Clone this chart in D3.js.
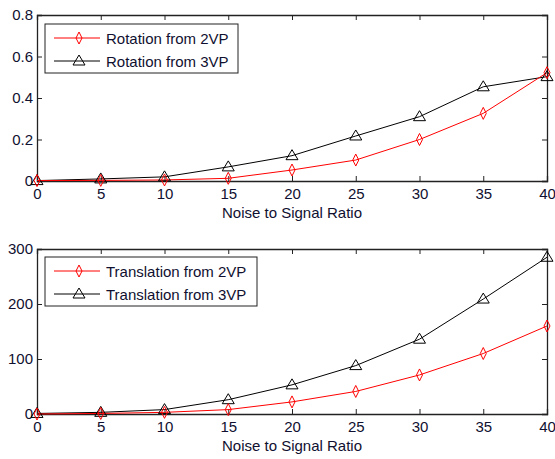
<!DOCTYPE html>
<html>
<head>
<meta charset="utf-8">
<script src="https://cdn.jsdelivr.net/npm/d3@7"></script>
<style>
body { margin: 0; background: #fff; }
text { font-family: "Liberation Sans", Arial, sans-serif; font-size: 15px; fill: #101030; }
</style>
</head>
<body>
<div id="chart"></div>
<script>
var noise = [0, 5, 10, 15, 20, 25, 30, 35, 40];
var rot2vp = [0.002, 0.003, 0.005, 0.013, 0.053, 0.101, 0.2, 0.326, 0.522];
var rot3vp = [0.002, 0.01, 0.02, 0.068, 0.122, 0.217, 0.31, 0.454, 0.503];
var trans2vp = [0, 1, 3, 8, 22, 41, 71, 110, 160];
var trans3vp = [1, 3, 8, 26, 53, 88, 136, 209, 285];
var xTicks = [0, 5, 10, 15, 20, 25, 30, 35, 40];
var rotTicks = [0, 0.2, 0.4, 0.6, 0.8];
var transTicks = [0, 100, 200, 300];

var W = 555, H = 459;
var svg = d3.select("#chart").append("svg")
    .attr("width", W).attr("height", H);

function diamond(g, cx, cy, color) {
    g.append("path")
        .attr("d", "M" + cx + "," + (cy - 6) + "L" + (cx + 3) + "," + cy +
            "L" + cx + "," + (cy + 6) + "L" + (cx - 3) + "," + cy + "Z")
        .attr("fill", "none").attr("stroke", color).attr("stroke-width", 1);
}
function triangle(g, cx, cy, color) {
    g.append("path")
        .attr("d", "M" + cx + "," + (cy - 6) + "L" + (cx + 6) + "," + (cy + 4) +
            "L" + (cx - 6) + "," + (cy + 4) + "Z")
        .attr("fill", "none").attr("stroke", color).attr("stroke-width", 1);
}

function panel(top, bottom, yMax, yTicks, fmt, s2, s3, labels, legW, legTop) {
    var left = 37, right = 547;
    var x = d3.scaleLinear().domain([0, 40]).range([left, right]);
    var y = d3.scaleLinear().domain([0, yMax]).range([bottom, top]);
    var g = svg.append("g");

    // axes with inward ticks, MATLAB style
    var xa = g.append("g").attr("transform", "translate(0," + bottom + ")")
        .call(d3.axisBottom(x).tickValues(xTicks).tickSize(-5).tickPadding(7).tickFormat(d3.format("d")));
    var xt = g.append("g").attr("transform", "translate(0," + top + ")")
        .call(d3.axisTop(x).tickValues(xTicks).tickSize(-5).tickFormat(""));
    var ya = g.append("g").attr("transform", "translate(" + left + ",0)")
        .call(d3.axisLeft(y).tickValues(yTicks).tickSize(-5).tickPadding(4).tickFormat(fmt));
    var yr = g.append("g").attr("transform", "translate(" + right + ",0)")
        .call(d3.axisRight(y).tickValues(yTicks).tickSize(-5).tickFormat(""));
    [xa, xt, ya, yr].forEach(function(a) {
        a.select(".domain").attr("stroke", "#222").attr("stroke-width", 1.3);
        a.selectAll(".tick line").attr("stroke", "#222");
        a.selectAll("text").style("font-size", "15px").attr("fill", "#101030")
            .attr("font-family", null);
    });

    g.append("text").attr("x", (left + right) / 2).attr("y", bottom + 37)
        .attr("text-anchor", "middle").text("Noise to Signal Ratio");

    var line = d3.line().x(function(d, i) { return x(noise[i]); }).y(function(d) { return y(d); });
    g.append("path").datum(s3).attr("d", line).attr("fill", "none").attr("stroke", "#000").attr("stroke-width", 1);
    g.append("path").datum(s2).attr("d", line).attr("fill", "none").attr("stroke", "#ff0000").attr("stroke-width", 1);
    s3.forEach(function(d, i) { triangle(g, x(noise[i]), y(d), "#000"); });
    s2.forEach(function(d, i) { diamond(g, x(noise[i]), y(d), "#ff0000"); });

    // legend
    var lx = 45, ly = legTop;
    var lg = g.append("g");
    lg.append("rect").attr("x", lx).attr("y", ly).attr("width", legW).attr("height", 49)
        .attr("fill", "#fff").attr("stroke", "#222").attr("stroke-width", 1);
    var rows = [{c: "#ff0000", m: diamond}, {c: "#000", m: triangle}];
    rows.forEach(function(r, i) {
        var yy = ly + 14 + i * 23;
        lg.append("line").attr("x1", lx + 9).attr("x2", lx + 55).attr("y1", yy).attr("y2", yy)
            .attr("stroke", r.c).attr("stroke-width", 1);
        r.m(lg, lx + 34, yy, r.c);
        lg.append("text").attr("x", lx + 61).attr("y", yy + 5.5).text(labels[i]);
    });
}

panel(15, 181, 0.8, rotTicks, function(d) { return d === 0 ? "0" : d3.format(".1f")(d); },
    rot2vp, rot3vp, ["Rotation from 2VP", "Rotation from 3VP"], 193, 24);
panel(249, 414, 300, transTicks, d3.format("d"),
    trans2vp, trans3vp, ["Translation from 2VP", "Translation from 3VP"], 212, 257);
</script>
</body>
</html>
